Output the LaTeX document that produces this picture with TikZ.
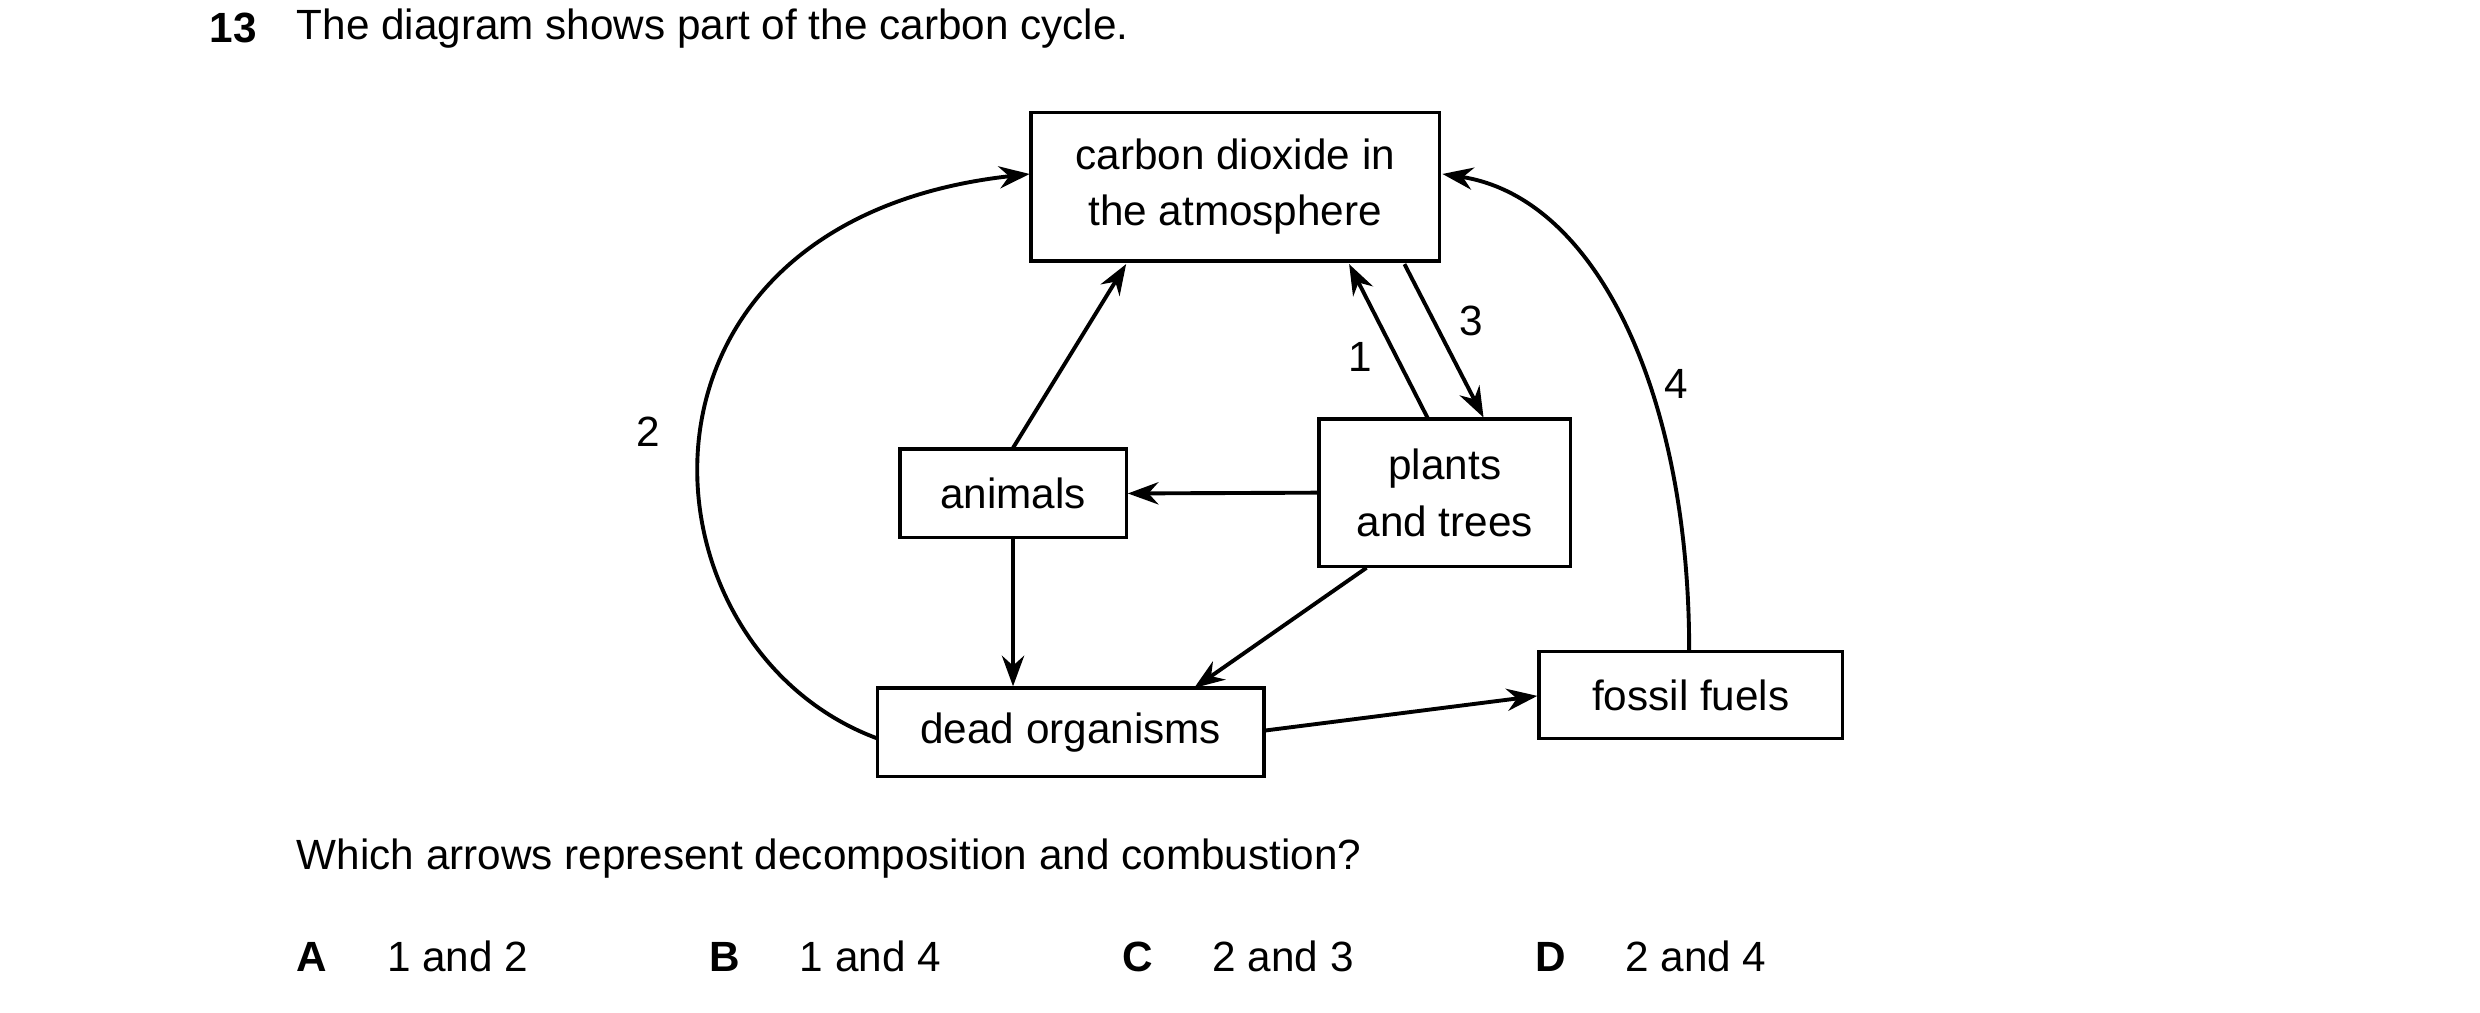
\documentclass[tikz,border=0pt]{standalone}
\usepackage{fontspec}
\setmainfont{Liberation Sans}
\usetikzlibrary{arrows.meta}
\begin{document}
\begin{tikzpicture}[x=0.01cm,y=-0.01cm,
  box/.style={draw,line width=0.6pt,inner sep=0pt,align=center,font=\fontsize{7.6}{10.2}\selectfont},
  lbl/.style={inner sep=0pt,font=\fontsize{7.6}{9}\selectfont},
  arr/.style={line width=0.7pt,-{Stealth[length=5.5pt,width=4pt]}}]
\useasboundingbox (0,0) rectangle (1568,640);
\node[lbl,anchor=west,font=\fontsize{7.6}{9}\selectfont\bfseries] (n13) at (132,18) {13};
\node[lbl,anchor=west] (title) at (187,18) {The diagram shows part of the carbon cycle.};
\node[box,minimum width=2.58cm,minimum height=0.94cm] (co2) at (781,118) {carbon dioxide in\\the atmosphere};
\node[box,minimum width=1.43cm,minimum height=0.56cm] (ani) at (640.5,312) {animals};
\node[box,minimum width=1.59cm,minimum height=0.93cm] (pl) at (913.5,311.5) {plants\\and trees};
\node[box,minimum width=2.44cm,minimum height=0.56cm] (dead) at (677,463) {dead organisms};
\node[box,minimum width=1.92cm,minimum height=0.55cm] (fos) at (1069,439.5) {fossil fuels};
\coordinate (a1) at (640,284); \coordinate (a2) at (712,167);
\draw[arr] (a1) -- (a2);
\coordinate (p1) at (903,265); \coordinate (c1) at (853,167);
\draw[arr] (p1) -- (c1);
\coordinate (c3) at (888,167); \coordinate (p3) at (938,264);
\draw[arr] (c3) -- (p3);
\draw[arr] (pl.west) -- (ani.east);
\draw[arr] (ani.south) -- (dead.north -| ani.south);
\coordinate (p4) at (864,359); \coordinate (d4) at (755,435);
\draw[arr] (p4) -- (d4);
\coordinate (d5) at (799,462); \coordinate (f5) at (972,440);
\draw[arr] (d5) -- (f5);
\coordinate (d6) at (555,467); \coordinate (c6) at (651,110);
\draw[arr] (d6) .. controls (400,410) and (380,140) .. (c6);
\coordinate (f7) at (1068,411); \coordinate (c7) at (912,110);
\draw[arr] (f7) .. controls (1068,250) and (1010,125) .. (c7);
\node[lbl] (l1) at (860,226) {1};
\node[lbl] (l2) at (410,273) {2};
\node[lbl] (l3) at (930,203) {3};
\node[lbl] (l4) at (1060,243) {4};
\node[lbl,anchor=west] (q) at (187,543) {Which arrows represent decomposition and combustion?};
\node[lbl,anchor=west,font=\fontsize{7.6}{9}\selectfont\bfseries] (A) at (187,605) {A};
\node[lbl,anchor=west] (Aa) at (244,605) {1 and 2};
\node[lbl,anchor=west,font=\fontsize{7.6}{9}\selectfont\bfseries] (B) at (448,605) {B};
\node[lbl,anchor=west] (Ba) at (505,605) {1 and 4};
\node[lbl,anchor=west,font=\fontsize{7.6}{9}\selectfont\bfseries] (C) at (709,605) {C};
\node[lbl,anchor=west] (Ca) at (766,605) {2 and 3};
\node[lbl,anchor=west,font=\fontsize{7.6}{9}\selectfont\bfseries] (D) at (970,605) {D};
\node[lbl,anchor=west] (Da) at (1027,605) {2 and 4};
\end{tikzpicture}
\end{document}
